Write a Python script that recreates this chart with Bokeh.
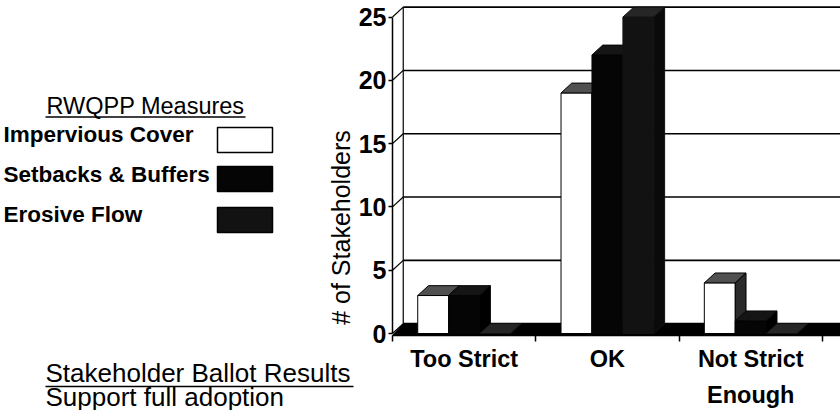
import numpy as np
from bokeh.plotting import figure
from bokeh.models import FixedTicker, Range1d, ColumnDataSource, LinearAxis
from bokeh.embed import file_html
from bokeh.resources import INLINE
from bokeh.core.properties import value

# ---------------- data ----------------
categories = ["Too Strict", "OK", "Not Strict\nEnough"]
series_names = ["Impervious Cover", "Setbacks & Buffers", "Erosive Flow"]
impervious = [3, 19, 4]
setbacks = [3, 22, 1]
erosive = [0, 25, 0]
y_ticks = [0, 5, 10, 15, 20, 25]

# ---------------- styling / geometry ----------------
FONT = "Liberation Sans"
front_colors = ["#ffffff", "#050505", "#121212"]
top_colors = ["#505050", "#151515", "#262626"]
side_colors = ["#2a2a2a", "#000000", "#0a0a0a"]
edge_colors = ["#000000", "#050505", "#121212"]

W, H = 840, 410
SX, SY = 143.3, 12.66          # pixels per category / per stakeholder
X0_PX, Y0_PX = 392, 333        # pixel position of x=0 / y=0
x_start, x_end = -X0_PX / SX, (W - X0_PX) / SX
y_end, y_start = Y0_PX / SY, (Y0_PX - H) / SY
y_floor = -2 / SY              # front edge of the floor (x-axis line)
dx, dy = 0.075, 0.78           # 3-D depth offset
bar_w = 0.216
TEXT_SHIFT = 8                 # baseline correction for text glyphs (px)

def px(x):
    return (x - X0_PX) / SX

def py(y):
    return (Y0_PX - y) / SY

p = figure(width=W, height=H, x_range=Range1d(x_start, x_end),
           y_range=Range1d(y_start, y_end), output_backend="svg",
           toolbar_location=None, x_axis_location=None, y_axis_location=None,
           min_border=0)
p.outline_line_color = None
p.grid.visible = False
p.background_fill_color = "white"
p.border_fill_color = "white"

# floor
p.patch([0, x_end + 1, x_end + 1 + dx, dx], [y_floor, y_floor, dy, dy],
        fill_color="black", line_color="black")

# back wall grid lines + side wall slants
n = len(y_ticks)
p.segment(x0=[dx] * n, y0=[v + dy for v in y_ticks], x1=[x_end + 1] * n,
          y1=[v + dy for v in y_ticks], line_color="black", line_width=1.6)
p.segment(x0=[0] * n, y0=y_ticks, x1=[dx] * n, y1=[v + dy for v in y_ticks],
          line_color="black", line_width=1.2)
p.segment(x0=[dx], y0=[dy], x1=[dx], y1=[y_ticks[-1] + dy],
          line_color="black", line_width=1.2)

# 3-D bars (painter order left to right)
series = [impervious, setbacks, erosive]
xs, ys, fills, lines = [], [], [], []
for i in range(len(categories)):
    for j, vals in enumerate(series):
        v = vals[i]
        x0 = i + 0.5 - 1.5 * bar_w + j * bar_w
        x1 = x0 + bar_w
        xs.append([x0, x1, x1, x0]); ys.append([0, 0, v, v])
        fills.append(front_colors[j]); lines.append(edge_colors[j])
        xs.append([x0, x1, x1 + dx, x0 + dx]); ys.append([v, v, v + dy, v + dy])
        fills.append(top_colors[j]); lines.append(edge_colors[j])
        xs.append([x1, x1 + dx, x1 + dx, x1]); ys.append([0, dy, v + dy, v])
        fills.append(side_colors[j]); lines.append(edge_colors[j])
src = ColumnDataSource(dict(xs=xs, ys=ys, fill=fills, line=lines))
p.patches("xs", "ys", source=src, fill_color="fill", line_color="line", line_width=1)

# ---------------- axes (fixed at the chart's corner) ----------------
xaxis = LinearAxis(fixed_location=y_floor)
xaxis.ticker = FixedTicker(ticks=[i + 0.5 for i in range(len(categories))],
                           minor_ticks=list(range(len(categories) + 1)))
xaxis.major_label_overrides = {i + 0.5: c for i, c in enumerate(categories)}
xaxis.bounds = (0, x_end + 1)
xaxis.major_tick_out = 0
xaxis.major_tick_in = 0
xaxis.minor_tick_out = 6
xaxis.minor_tick_in = 0
xaxis.minor_tick_line_width = 1.5
xaxis.axis_line_width = 1.5
xaxis.major_label_standoff = 4
xaxis.major_label_text_font = FONT
xaxis.major_label_text_font_style = "bold"
xaxis.major_label_text_font_size = "23.5px"
xaxis.major_label_text_line_height = 1.42
xaxis.major_label_text_color = "black"
p.add_layout(xaxis, "below")

yaxis = LinearAxis(fixed_location=0)
yaxis.ticker = FixedTicker(ticks=y_ticks, minor_ticks=[])
yaxis.bounds = (0, 25)
yaxis.major_tick_out = 4
yaxis.major_tick_in = 0
yaxis.major_tick_line_width = 1.5
yaxis.axis_line_width = 1.5
yaxis.major_label_standoff = 2
yaxis.major_label_text_font = FONT
yaxis.major_label_text_font_style = "bold"
yaxis.major_label_text_font_size = "25px"
yaxis.major_label_text_color = "black"
p.add_layout(yaxis, "left")

# ---------------- left-hand notes ----------------
def txt(x, y, text, size, bold=False, align="left", angle=0.0, baseline="alphabetic",
        shift=TEXT_SHIFT):
    p.text(x=[px(x)], y=[py(y - shift)], text=[text], text_font=value(FONT),
           text_font_size=size, text_font_style="bold" if bold else "normal",
           text_align=align, text_baseline=baseline, angle=angle, text_color="black")

txt(145, 113, "RWQPP Measures", "23.5px", align="center")
p.segment(x0=[px(45)], y0=[py(116.5)], x1=[px(245)], y1=[py(116.5)],
          line_color="black", line_width=1.5)

base = [142, 182, 222]
box_top = [127, 166, 207]
for name, b in zip(series_names, base):
    txt(3, b, name, "22.5px", bold=True)
p.quad(left=[px(217)] * 3, right=[px(272)] * 3, top=[py(t) for t in box_top],
       bottom=[py(t + 25) for t in box_top], fill_color=front_colors,
       line_color="black", line_width=1.5)

txt(45, 380, "Stakeholder Ballot Results", "26px")
p.segment(x0=[px(45)], y0=[py(386)], x1=[px(353)], y1=[py(386)],
          line_color="black", line_width=1.5)
txt(45, 404, "Support full adoption", "26px")

# y-axis title
txt(340, 227, "# of Stakeholders", "25px", align="center", angle=np.pi / 2,
    baseline="middle", shift=0)

open("out.html", "w").write(file_html(p, INLINE))
